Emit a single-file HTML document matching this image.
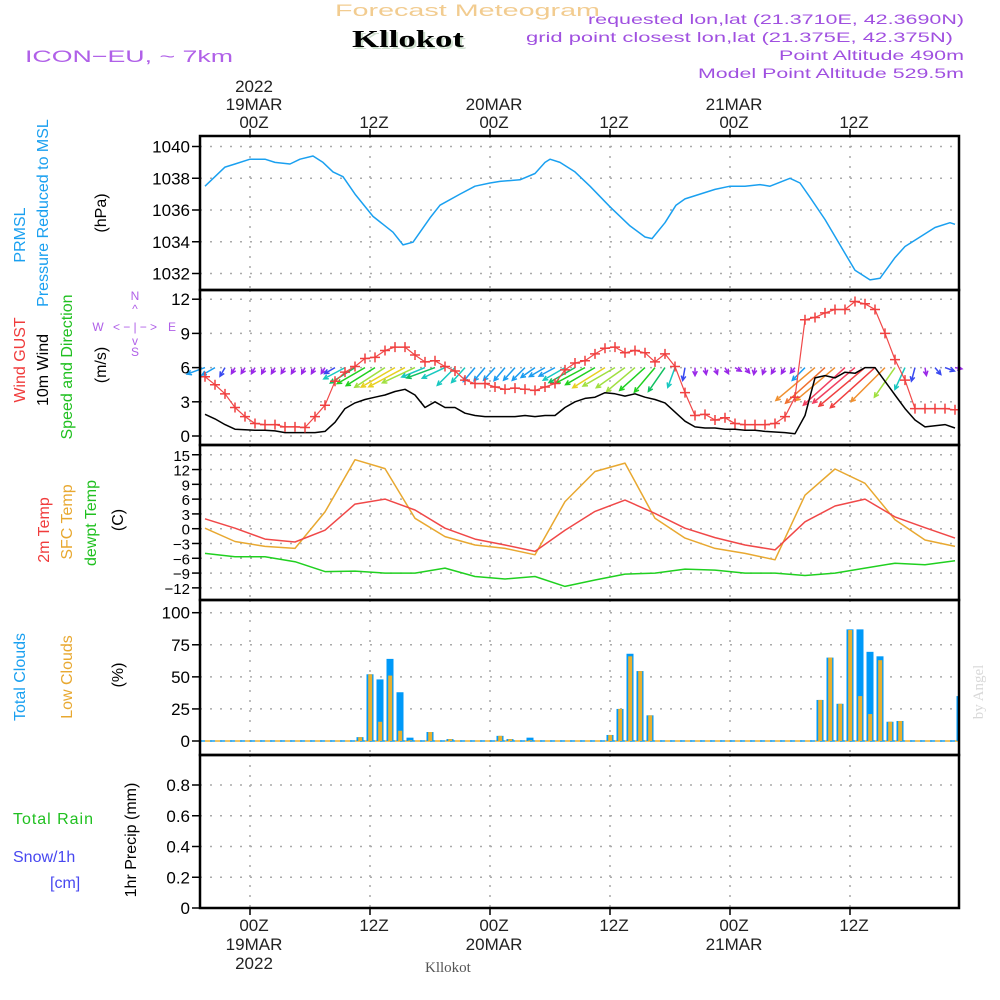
<!DOCTYPE html>
<html><head><meta charset="utf-8"><title>Meteogram Kllokot</title>
<style>
html,body{margin:0;padding:0;background:#fff;}
svg{display:block;font-family:"Liberation Sans",sans-serif;}
</style></head>
<body>
<svg id="chart" width="1000" height="1000" viewBox="0 0 1000 1000" xmlns="http://www.w3.org/2000/svg">
<rect x="0" y="0" width="1000" height="1000" fill="#fff"/>
<g>
<text x="335" y="16" font-size="17" fill="#f2cc90" textLength="265" lengthAdjust="spacingAndGlyphs">Forecast Meteogram</text>
<text x="354" y="49" font-size="24" font-weight="bold" font-family="Liberation Serif,serif" fill="#cfe0cf" textLength="112" lengthAdjust="spacingAndGlyphs">Kllokot</text>
<text x="352" y="47" font-size="24" font-weight="bold" font-family="Liberation Serif,serif" fill="#000" textLength="112" lengthAdjust="spacingAndGlyphs">Kllokot</text>
<text x="25" y="62" font-size="17" fill="#b060e8" textLength="208" lengthAdjust="spacingAndGlyphs">ICON−EU, ~ 7km</text>
<text x="588" y="24" font-size="14" fill="#a050e0" textLength="376" lengthAdjust="spacingAndGlyphs">requested lon,lat (21.3710E, 42.3690N)</text>
<text x="526" y="42" font-size="14" fill="#a050e0" textLength="427" lengthAdjust="spacingAndGlyphs">grid point closest lon,lat (21.375E, 42.375N)</text>
<text x="779" y="60" font-size="14" fill="#a050e0" textLength="185" lengthAdjust="spacingAndGlyphs">Point Altitude 490m</text>
<text x="698" y="78" font-size="14" fill="#a050e0" textLength="266" lengthAdjust="spacingAndGlyphs">Model Point Altitude 529.5m</text>
</g>
<g id="grid"></g>
<g id="marks"></g>
<g id="axes"></g>
<g font-size="16">
<text transform="translate(25,235) rotate(-90)" text-anchor="middle" fill="#1aa0f0">PRMSL</text>
<text transform="translate(48,213) rotate(-90)" text-anchor="middle" fill="#1aa0f0">Pressure Reduced to MSL</text>
<text transform="translate(106,213) rotate(-90)" text-anchor="middle" fill="#000">(hPa)</text>
<text transform="translate(25,360) rotate(-90)" text-anchor="middle" fill="#f03c3c">Wind GUST</text>
<text transform="translate(48,370) rotate(-90)" text-anchor="middle" fill="#000">10m Wind</text>
<text transform="translate(72,367) rotate(-90)" text-anchor="middle" fill="#20c020">Speed and Direction</text>
<text transform="translate(106,365) rotate(-90)" text-anchor="middle" fill="#000">(m/s)</text>
<g fill="#b060e8" font-size="12" text-anchor="middle">
<text x="135" y="300">N</text><text x="135" y="313">^</text><text x="135" y="331" textLength="44" lengthAdjust="spacing">&lt; − | − &gt;</text><text x="98" y="331">W</text><text x="172" y="331">E</text><text x="135" y="345">v</text><text x="135" y="356">S</text>
</g>
<text transform="translate(49,530) rotate(-90)" text-anchor="middle" fill="#f03c3c">2m Temp</text>
<text transform="translate(72,522) rotate(-90)" text-anchor="middle" fill="#e8a830">SFC Temp</text>
<text transform="translate(96,523) rotate(-90)" text-anchor="middle" fill="#20c020">dewpt Temp</text>
<text transform="translate(123,520) rotate(-90)" text-anchor="middle" fill="#000">(C)</text>
<text transform="translate(25,677) rotate(-90)" text-anchor="middle" fill="#1aa0f0">Total Clouds</text>
<text transform="translate(72,677) rotate(-90)" text-anchor="middle" fill="#e8a830">Low Clouds</text>
<text transform="translate(123,675) rotate(-90)" text-anchor="middle" fill="#000">(%)</text>
<text x="13" y="824" fill="#20c020" textLength="80" lengthAdjust="spacing">Total  Rain</text>
<text x="13" y="862" fill="#4848f0">Snow/1h</text>
<text x="50" y="888" fill="#4848f0">[cm]</text>
<text transform="translate(136,840) rotate(-90)" text-anchor="middle" fill="#000">1hr Precip (mm)</text>
<text transform="translate(983,692) rotate(-90)" text-anchor="middle" font-family="Liberation Serif,serif" font-size="15" fill="#d8d8d8">by Angel</text>
<text x="425" y="972" font-family="Liberation Serif,serif" font-size="15" fill="#555">Kllokot</text>
</g>
<script>
// ---- data ----
const pressHours=[-4.5,-2.5,-1.5,0,1.5,2.5,4,5,6.3,7.3,8.3,9.3,10.5,12.3,14.3,15.3,16.3,18,19,21,22.5,24,25,27,28.5,29.5,30,31,32.5,34,36,38,39.5,40.2,41.5,42.6,43.5,45,46.5,48,49.5,51,52,54,55,56,57.5,59,60.5,62,63,64.5,65.5,67,68.5,70,70.5];
const pressure=[1037.5,1038.7,1038.9,1039.2,1039.2,1039.0,1038.9,1039.2,1039.4,1039.0,1038.4,1038.1,1037.0,1035.6,1034.6,1033.8,1033.97,1035.5,1036.3,1037.0,1037.5,1037.7,1037.8,1037.9,1038.3,1039.0,1039.2,1039.0,1038.4,1037.5,1036.2,1035.0,1034.3,1034.2,1035.2,1036.3,1036.7,1037.0,1037.3,1037.5,1037.5,1037.6,1037.5,1038.0,1037.7,1036.8,1035.4,1033.8,1032.2,1031.6,1031.7,1033.0,1033.7,1034.3,1034.9,1035.2,1035.1];
const windStart=-4.5;
const gust=[5.2,4.5,3.7,2.5,1.7,1.1,1.0,1.0,0.8,0.8,0.75,1.7,2.7,4.8,5.6,6.1,6.8,6.9,7.5,7.8,7.8,7.1,6.5,6.6,6.1,5.7,4.9,4.6,4.6,4.3,4.1,4.2,4.1,4.0,4.3,4.6,5.8,6.4,6.6,7.2,7.7,7.8,7.3,7.5,7.3,6.5,7.2,6.1,3.8,1.8,1.9,1.4,1.6,1.1,1.0,1.0,1.0,1.1,1.7,3.4,10.2,10.4,10.8,11.1,11.1,11.8,11.6,11.1,9.0,6.7,4.9,2.4,2.4,2.4,2.4,2.3];
const windSpeed=[1.9,1.5,1.0,0.6,0.55,0.5,0.5,0.45,0.3,0.3,0.3,0.3,0.4,1.2,2.4,2.9,3.2,3.4,3.6,3.9,4.1,3.6,2.5,3.0,2.5,2.5,2.0,1.8,1.7,1.7,1.7,1.7,1.8,1.7,1.8,1.8,2.5,3.0,3.3,3.4,3.8,3.7,3.5,3.7,3.4,3.2,2.9,2.1,1.3,0.8,0.7,0.7,0.6,0.6,0.5,0.5,0.4,0.35,0.3,0.2,1.8,5.1,5.3,5.1,5.6,5.5,6.0,6.0,4.8,3.6,2.4,1.4,0.8,0.9,1.0,0.7];
const windDir=[70,60,30,30,32,30,28,30,32,30,28,30,32,60,62,58,60,58,57,60,62,65,68,70,65,45,42,40,40,42,40,42,45,55,60,62,60,60,62,60,58,60,55,50,48,40,35,20,10,0,350,340,330,300,320,10,20,30,30,40,45,50,48,50,48,50,50,48,45,35,25,15,350,320,290,280];
const tempStart=-4.5, tempStep=3;
const t2m=[2.0,0.1,-2.1,-2.7,-0.3,5.0,6.0,3.8,0.1,-2.1,-3.3,-4.6,-0.3,3.5,5.8,3.1,0.1,-1.8,-3.3,-4.3,1.4,4.6,6.0,2.4,0.2,-1.9];
const sfcTemp=[0.1,-2.6,-3.6,-4.0,3.4,14.0,12.2,2.1,-1.6,-3.3,-4.0,-5.3,5.5,11.6,13.3,2.1,-1.9,-4.0,-5.0,-6.3,6.8,12.1,9.2,1.8,-2.3,-3.6];
const dewpt=[-5.0,-5.7,-5.7,-6.7,-8.7,-8.6,-9.0,-9.0,-8.0,-9.7,-10.2,-9.7,-11.7,-10.4,-9.2,-9.0,-8.2,-8.4,-9.0,-9.0,-9.5,-9.0,-8.0,-7.0,-7.3,-6.5];
const cloudHours=[11,12,13,14,15,16,18,20,25,26,28,36,37,38,39,40,57,58,59,60,61,62,63,64,65,71];
const totalClouds=[3,52,48,64,38,2.6,7,1.5,4,1.5,2.6,4.7,25,68,54.5,20,32,65,29,87,87,69.5,66,15,15.6,35];
const lowClouds=[3,52,15,51,8,0.5,7,1.5,4,1.5,0.5,4.7,25,66,54.5,20,32,65,29,86.5,35,21,63,15,15.6,0];
const pressTicks=[1032,1034,1036,1038,1040];
const windTicks=[0,3,6,9,12];
const tempTicks=[-12,-9,-6,-3,0,3,6,9,12,15];
const cloudTicks=[0,25,50,75,100];
const precipTicks=[0,0.2,0.4,0.6,0.8];
const timeTicks=[0,12,24,36,48,60];
const timeLabels=["00Z","12Z","00Z","12Z","00Z","12Z"];
const dayLabels=["19MAR","","20MAR","","21MAR",""];

// ---- scales ----
const L=200,R=959;
const X=h=>250+10*h;
const yP=v=>146.5+(1040-v)*15.875;
const yW=v=>436-v*11.4;
const yT=v=>528.7-v*4.93;
const yC=v=>741-v*1.283;
const yR=v=>908-v*153.75;
const NS='http://www.w3.org/2000/svg';
const grid=document.getElementById('grid'),marks=document.getElementById('marks'),axes=document.getElementById('axes');
function mk(tag,attrs,parent){const e=document.createElementNS(NS,tag);for(const k in attrs)e.setAttribute(k,attrs[k]);parent.appendChild(e);return e;}

const panels=[[136,290,pressTicks,yP,'pressure'],[290,445,windTicks,yW,'wind'],[445,600,tempTicks,yT,'temp'],[600,755,cloudTicks,yC,'cloud'],[755,908,precipTicks,yR,'precip']];
panels.forEach(p=>{
  const [t,b,ticks,sc,nm]=p;
  timeTicks.forEach(h=>{
    const g=mk('line',{x1:X(h),x2:X(h),y1:t,y2:b,stroke:'#aaa','stroke-width':1.5,'stroke-dasharray':'2 8'},grid);
    
    
  });
  ticks.forEach((v,i)=>{
    const y=sc(v);
    const g=mk('line',{x1:L,x2:R,y1:y,y2:y,stroke:'#aaa','stroke-width':1.5,'stroke-dasharray':'2 8'},grid);
    
    
    const tk=mk('line',{x1:L-8,x2:L,y1:y,y2:y,stroke:'#000','stroke-width':1.5},axes);
    
    
    const lb=mk('text',{x:L-10,y:y+6,'text-anchor':'end','font-size':nm==='temp'?15:17,fill:'#000'},axes);
    
    
    lb.textContent=(v<0?'−'+(-v):String(v));
  });
});
// frames
[[136,290],[290,445],[445,600],[600,755],[755,908]].forEach(f=>{
  const r=mk('rect',{x:L,y:f[0],width:R-L,height:f[1]-f[0],fill:'none',stroke:'#000','stroke-width':2.5},axes);
  
  
});
// time axes
timeTicks.forEach((h,i)=>{
  const x=X(h);
  mk('line',{x1:x,x2:x,y1:129,y2:136,stroke:'#000','stroke-width':1.5},axes);
  mk('line',{x1:x,x2:x,y1:908,y2:915,stroke:'#000','stroke-width':1.5},axes);
  const t1=mk('text',{x:x+4,y:128,'text-anchor':'middle','font-size':17,fill:'#222'},axes);
  
  
  t1.textContent=timeLabels[i];
  const t2=mk('text',{x:x+4,y:931,'text-anchor':'middle','font-size':17,fill:'#222'},axes);
  
  
  t2.textContent=timeLabels[i];
  if(dayLabels[i]){
    const d1=mk('text',{x:x+4,y:110,'text-anchor':'middle','font-size':17,fill:'#222'},axes);
    
    
    d1.textContent=dayLabels[i];
    const d2=mk('text',{x:x+4,y:950,'text-anchor':'middle','font-size':17,fill:'#222'},axes);
    
    
    d2.textContent=dayLabels[i];
  }
});
const y1=mk('text',{x:254,y:92,'text-anchor':'middle','font-size':17,fill:'#222'},axes);


y1.textContent='2022';
const y2=mk('text',{x:254,y:969,'text-anchor':'middle','font-size':17,fill:'#222'},axes);


y2.textContent='2022';

function poly(xs,ys,color,name,w){
  const pts=xs.map((x,i)=>x.toFixed(1)+','+ys[i].toFixed(1)).join(' ');
  const p=mk('polyline',{points:pts,fill:'none',stroke:color,'stroke-width':w||1.5,'stroke-linejoin':'round'},marks);
  
  
}
// pressure
poly(pressHours.map(X),pressure.map(yP),'#1aa0f0','pressure-line');
// wind arrows
function spdColor(s){
  if(s<0.9) return '#9a28e8';
  if(s<1.5) return '#3848f0';
  if(s<2.0) return '#1a9cf0';
  if(s<2.6) return '#18c8c0';
  if(s<3.1) return '#10c060';
  if(s<3.5) return '#20d020';
  if(s<3.8) return '#a0e040';
  if(s<4.5) return '#e8d020';
  if(s<5.2) return '#f09030';
  if(s<5.5) return '#f07030';
  if(s<5.8) return '#f04060';
  return '#f04040';
}
windSpeed.forEach((s,i)=>{
  const h=windStart+i, x0=X(h), y0=yW(6);
  const len=Math.max(7,10*s);
  const rad=windDir[i]*Math.PI/180;
  const dx=-Math.sin(rad)*len, dy=Math.cos(rad)*len;
  const x1=x0+dx,y1b=y0+dy;
  const c=spdColor(s);
  const ang=Math.atan2(dy,dx);
  const hl=5;
  const a1=ang+Math.PI*0.85,a2=ang-Math.PI*0.85;
  const d='M'+x0.toFixed(1)+','+y0.toFixed(1)+'L'+x1.toFixed(1)+','+y1b.toFixed(1)+
    'M'+(x1+hl*Math.cos(a1)).toFixed(1)+','+(y1b+hl*Math.sin(a1)).toFixed(1)+'L'+x1.toFixed(1)+','+y1b.toFixed(1)+'L'+(x1+hl*Math.cos(a2)).toFixed(1)+','+(y1b+hl*Math.sin(a2)).toFixed(1);
  const p=mk('path',{d:d,fill:'none',stroke:c,'stroke-width':1.5},marks);
  
  
});
// wind speed line
poly(windSpeed.map((v,i)=>X(windStart+i)),windSpeed.map(yW),'#000','wind-speed-line');
// gust line + markers
poly(gust.map((v,i)=>X(windStart+i)),gust.map(yW),'#f04848','gust-line',1.2);
gust.forEach((v,i)=>{
  const x=X(windStart+i),y=yW(v);
  const p=mk('path',{d:'M'+(x-5)+','+y+'h10M'+x+','+(y-5)+'v10',stroke:'#f04040','stroke-width':1.5},marks);
  
  
});
// temps
const tX=t2m.map((v,i)=>X(tempStart+tempStep*i));
poly(tX,sfcTemp.map(yT),'#e8a830','sfc-temp-line');
poly(tX,t2m.map(yT),'#f04848','t2m-line');
poly(tX,dewpt.map(yT),'#20d020','dewpt-line');
// clouds
const z=mk('line',{x1:L,x2:R,y1:yC(0),y2:yC(0),stroke:'#1aa0f0','stroke-width':1.5,'stroke-dasharray':'5 5'},marks);


const z2=mk('line',{x1:L+5,x2:R,y1:yC(0),y2:yC(0),stroke:'#e8b030','stroke-width':1.5,'stroke-dasharray':'5 5'},marks);


const cp=mk('clipPath',{id:'cclip'},marks);
mk('rect',{x:L,y:600,width:R-L,height:155},cp);
cloudHours.forEach((h,i)=>{
  const x=X(h);
  const b=mk('rect',{x:x-3.5,y:yC(totalClouds[i]),width:7,height:yC(0)-yC(totalClouds[i]),fill:'#0099f8','clip-path':'url(#cclip)'},marks);
  
  
  if(lowClouds[i]>0){
    const o=mk('rect',{x:x-1.8,y:yC(lowClouds[i]),width:4,height:yC(0)-yC(lowClouds[i]),fill:'#e8b030','clip-path':'url(#cclip)'},marks);
    
    
  }
});
// precip zero line
const pz=mk('line',{x1:L,x2:R,y1:yR(0),y2:yR(0),stroke:'#000','stroke-width':2,'stroke-dasharray':'5 2'},marks);


</script>
</svg>
</body></html>
